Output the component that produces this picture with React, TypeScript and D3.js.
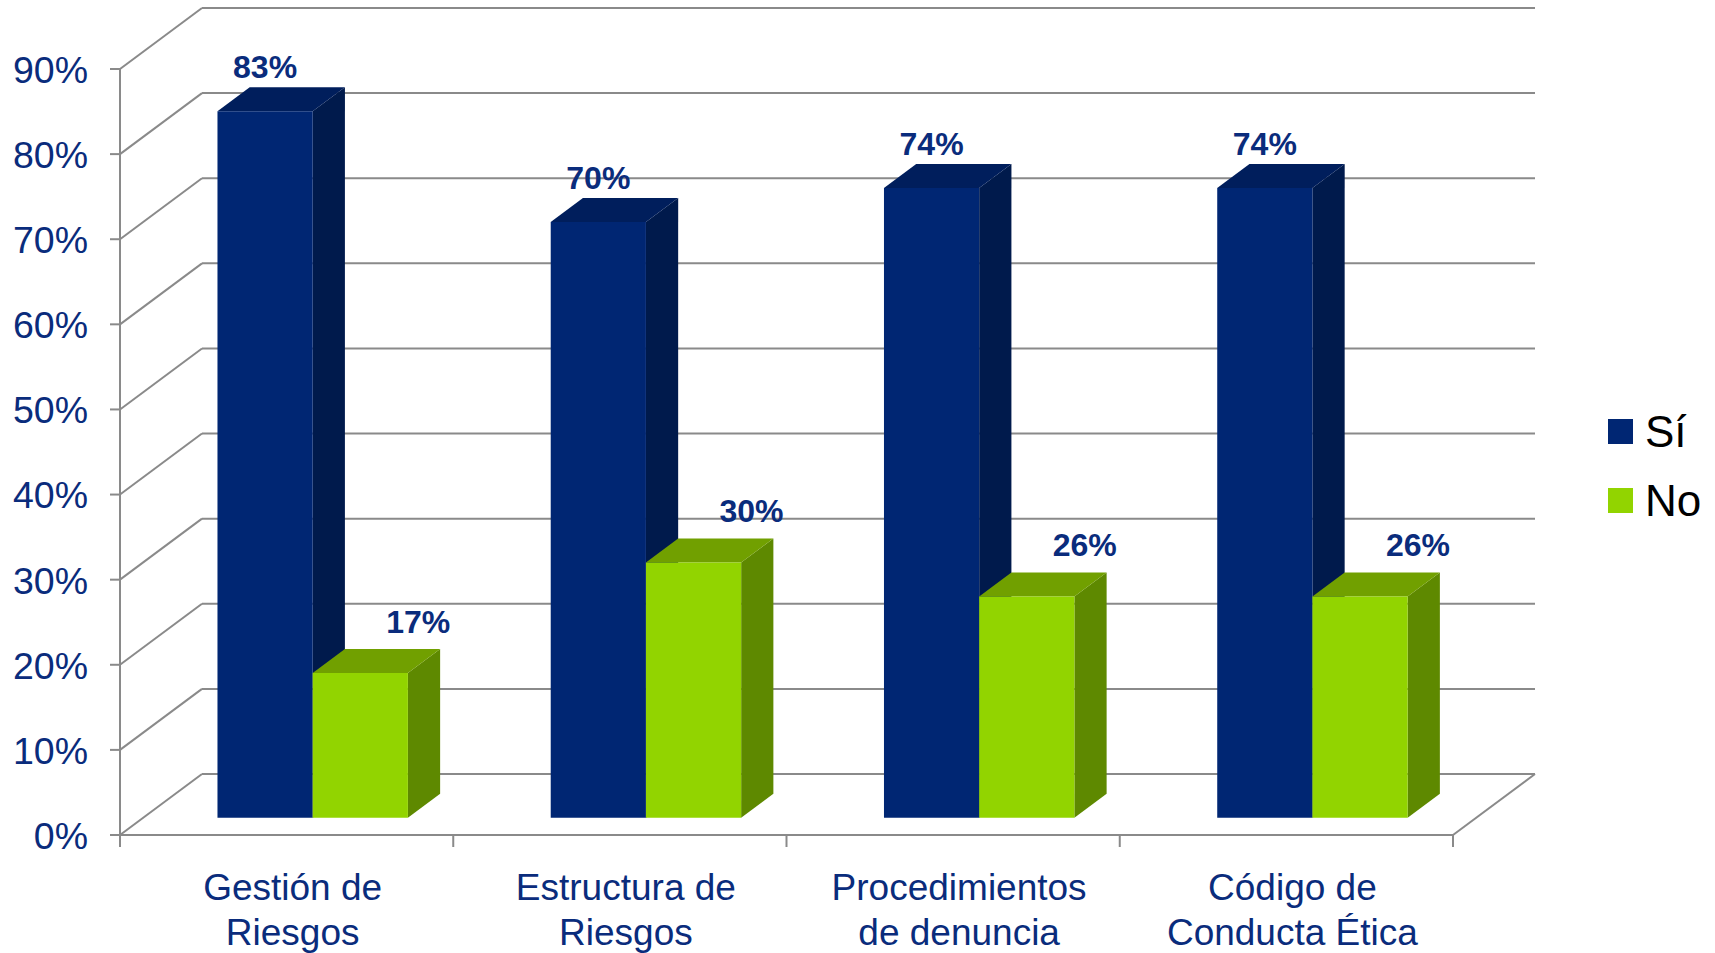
import React from 'react';
import * as d3 from 'd3';

const categories = ['Gestión de Riesgos', 'Estructura de Riesgos', 'Procedimientos de denuncia', 'Código de Conducta Ética'];
const categoryLines = [['Gestión de', 'Riesgos'], ['Estructura de', 'Riesgos'], ['Procedimientos', 'de denuncia'], ['Código de', 'Conducta Ética']];
const seriesNames = ['Sí', 'No'];
const siValues = [83, 70, 74, 74];
const noValues = [17, 30, 26, 26];
const yTicks = [0, 10, 20, 30, 40, 50, 60, 70, 80, 90];

const W = 1715;
const H = 953;
const FONT = "'Liberation Sans', Arial, Helvetica, sans-serif";
const NAVY_TEXT = '#0A2C7C';
const GRID = '#8A8A8A';

const palette = {
  'Sí': { front: '#002673', top: '#001E5C', side: '#001A4C' },
  'No': { front: '#92D400', top: '#71A000', side: '#5E8900' },
};

// oblique projection
const DEPTH_DX = 82;
const DEPTH_DY = -61;
const BAR_Z0 = 0.283; // fraction of depth where bar front sits
const BAR_Z1 = 0.676; // fraction of depth where bar back sits

export default function App() {
  const x = d3.scaleBand<string>().domain(categories).range([120, 1453]).padding(0);
  const y = d3.scaleLinear().domain([0, 90]).range([835, 69]);
  const inner = d3.scaleBand<string>().domain(seriesNames).range([0, x.bandwidth()]).paddingInner(0).paddingOuter(0.75).align(0.52);

  const bx0 = DEPTH_DX * BAR_Z0;
  const by0 = DEPTH_DY * BAR_Z0;
  const bdx = DEPTH_DX * (BAR_Z1 - BAR_Z0);
  const bdy = DEPTH_DY * (BAR_Z1 - BAR_Z0);

  const rows = categories.map((c, i) => ({ c, vals: { 'Sí': siValues[i], 'No': noValues[i] } as Record<string, number> }));

  const xL = x.range()[0];
  const xR = x.range()[1];
  const bw = inner.bandwidth();

  return (
    <svg width={W} height={H} style={{ position: 'absolute', left: 0, top: 0, background: '#fff' }} fontFamily={FONT}>
      {/* back wall gridlines and left wall diagonals */}
      {yTicks.map((t) => (
        <g key={'g' + t}>
          <line x1={xL + DEPTH_DX} x2={xR + DEPTH_DX} y1={y(t) + DEPTH_DY} y2={y(t) + DEPTH_DY} stroke={GRID} strokeWidth={2} />
          <line x1={xL} x2={xL + DEPTH_DX} y1={y(t)} y2={y(t) + DEPTH_DY} stroke={GRID} strokeWidth={2} />
          <line x1={xL - 10} x2={xL} y1={y(t)} y2={y(t)} stroke={GRID} strokeWidth={2} />
          <text x={88} y={y(t)} dy="0.37em" textAnchor="end" fontSize={37.5} fill={NAVY_TEXT}>{t + '%'}</text>
        </g>
      ))}
      {/* front axis */}
      <line x1={xL} x2={xL} y1={y(0)} y2={y(90)} stroke={GRID} strokeWidth={2} />
      <line x1={xL} x2={xR} y1={y(0)} y2={y(0)} stroke={GRID} strokeWidth={2} />
      <line x1={xR} x2={xR + DEPTH_DX} y1={y(0)} y2={y(0) + DEPTH_DY} stroke={GRID} strokeWidth={2} />
      {[...categories.map((c) => x(c)!), xR].map((px, i) => (
        <line key={'ct' + i} x1={px} x2={px} y1={y(0)} y2={y(0) + 12} stroke={GRID} strokeWidth={2} />
      ))}

      {/* bars */}
      {rows.map((r) => (
        <g key={r.c}>
          {seriesNames.map((s) => {
            const v = r.vals[s];
            const x0 = x(r.c)! + inner(s)! + bx0;
            const x1 = x0 + bw;
            const yt = y(v) + by0;
            const yb = y(0) + by0;
            const col = palette[s as 'Sí' | 'No'];
            const front = `M${x0},${yt}L${x1},${yt}L${x1},${yb}L${x0},${yb}Z`;
            const top = `M${x0},${yt}L${x0 + bdx},${yt + bdy}L${x1 + bdx},${yt + bdy}L${x1},${yt}Z`;
            const side = `M${x1},${yt}L${x1 + bdx},${yt + bdy}L${x1 + bdx},${yb + bdy}L${x1},${yb}Z`;
            return (
              <g key={s}>
                <path d={side} fill={col.side} />
                <path d={top} fill={col.top} />
                <path d={front} fill={col.front} />
              </g>
            );
          })}
        </g>
      ))}

      {/* data labels */}
      {rows.map((r) => (
        <g key={'l' + r.c}>
          {seriesNames.map((s) => {
            const v = r.vals[s];
            const cx = x(r.c)! + inner(s)! + bx0 + bw / 2 + (s === 'No' ? 58 : 0);
            const backTop = y(v) + by0 + bdy;
            return (
              <text key={s} x={cx} y={backTop - (s === 'No' ? 16 : 9)} textAnchor="middle" fontSize={32} fontWeight="bold" fill={NAVY_TEXT}>
                {v + '%'}
              </text>
            );
          })}
        </g>
      ))}

      {/* category labels */}
      {categories.map((c, i) => (
        <text key={'c' + c} x={x(c)! + x.bandwidth() / 2 + 6} y={900} textAnchor="middle" fontSize={37} fill={NAVY_TEXT}>
          {categoryLines[i].map((ln, j) => (
            <tspan key={j} x={x(c)! + x.bandwidth() / 2 + 6} dy={j === 0 ? 0 : 45}>{ln}</tspan>
          ))}
        </text>
      ))}

      {/* legend */}
      {seriesNames.map((s, i) => (
        <g key={'lg' + s} transform={`translate(1608, ${419 + i * 69})`}>
          <rect x={0} y={0} width={25} height={25} fill={palette[s as 'Sí' | 'No'].front} />
          <text x={37} y={28} fontSize={44} fill="#000">{s}</text>
        </g>
      ))}
    </svg>
  );
}
